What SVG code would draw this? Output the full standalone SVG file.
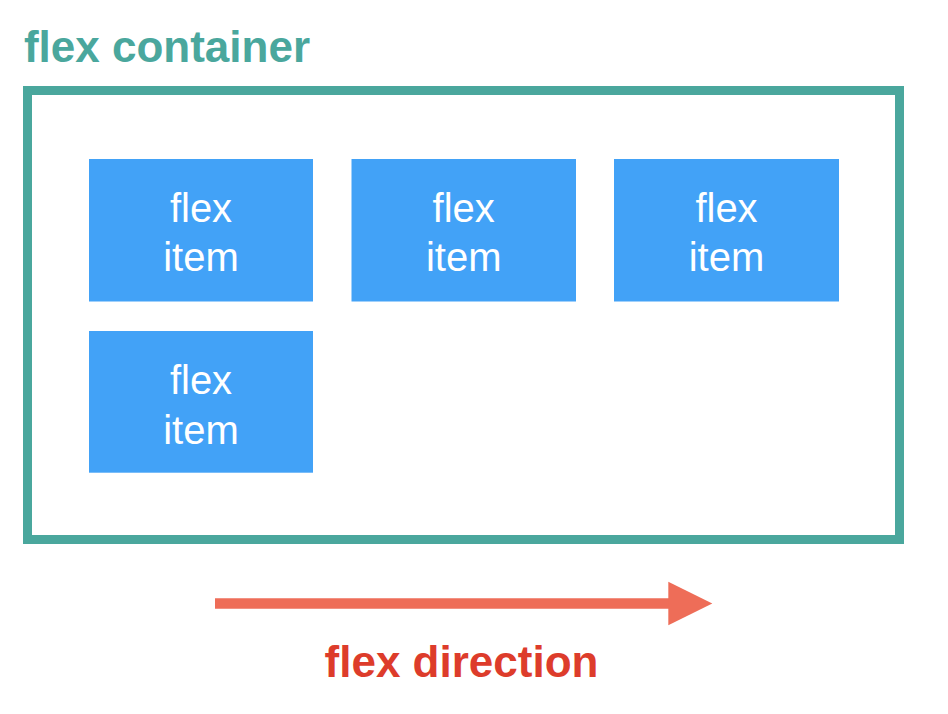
<svg xmlns="http://www.w3.org/2000/svg" width="948" height="714" viewBox="0 0 948 714">
  <style>
    .item rect { fill: #42A2F7; }
    .item text { fill: #FFFFFF; font-family: "Liberation Sans", Arial, sans-serif; font-size: 40px; text-anchor: middle; }
    .title { font-family: "Liberation Sans", Arial, sans-serif; font-weight: bold; font-size: 44px; text-anchor: middle; }
  </style>
  <rect width="948" height="714" fill="#FFFFFF"/>
  <g id="container">
    <text class="title" x="167" y="62" fill="#4AA79D">flex container</text>
    <rect x="27.5" y="90.5" width="872" height="449" fill="none" stroke="#4AA79D" stroke-width="9"/>
  </g>
  <g id="item1" class="item">
    <rect x="89" y="159" width="224" height="142.5"/>
    <text x="201" y="222">flex</text>
    <text x="201" y="271">item</text>
  </g>
  <g id="item2" class="item">
    <rect x="351.5" y="159" width="224.5" height="142.5"/>
    <text x="463.7" y="222">flex</text>
    <text x="463.7" y="271">item</text>
  </g>
  <g id="item3" class="item">
    <rect x="614" y="159" width="225" height="142.5"/>
    <text x="726.5" y="222">flex</text>
    <text x="726.5" y="271">item</text>
  </g>
  <g id="item4" class="item">
    <rect x="89" y="331" width="224" height="141.7"/>
    <text x="201" y="393.5">flex</text>
    <text x="201" y="443.5">item</text>
  </g>
  <g id="connectors">
    <line x1="215" y1="603.5" x2="670" y2="603.5" stroke="#EE6D58" stroke-width="10.7"/>
    <polygon points="668.3,581.7 712.3,603.5 668.3,625.3" fill="#EE6D58"/>
  </g>
  <g id="direction-label">
    <text class="title" x="461.5" y="677" fill="#DD3C2B">flex direction</text>
  </g>
</svg>
